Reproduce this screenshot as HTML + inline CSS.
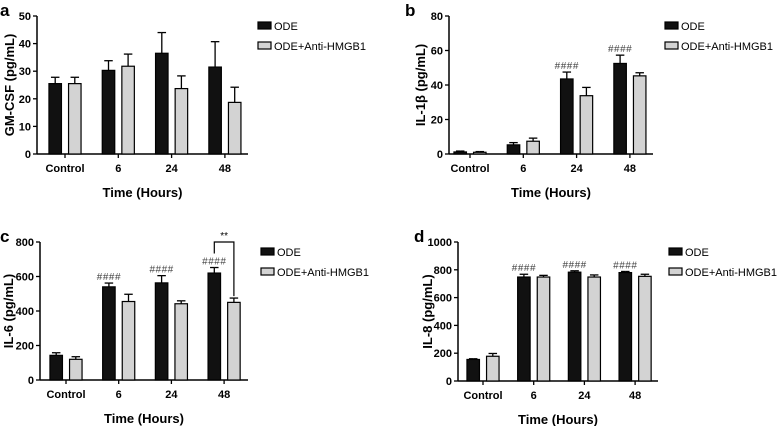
<!DOCTYPE html>
<html><head><meta charset="utf-8"><style>
body{margin:0;background:#fff;}
svg{display:block;font-family:"Liberation Sans",Arial,sans-serif;}
</style></head><body>
<svg id="fig" width="778" height="426" viewBox="0 0 778 426"></svg>
<script>
const categories = ["Control","6","24","48"];
const seriesNames = ["ODE","ODE+Anti-HMGB1"];
// panel a
const aOde = [25.5,30.3,36.5,31.5], aOdeErr = [2.3,3.5,7.5,9.2];
const aAnti = [25.5,31.8,23.7,18.7], aAntiErr = [2.3,4.4,4.6,5.5];
const aTicks = [0,10,20,30,40,50];
// panel b
const bOde = [1.2,5.3,43.5,52.5], bOdeErr = [0.5,1.3,4,4.8];
const bAnti = [1,7.4,33.8,45.3], bAntiErr = [0.4,1.8,4.8,1.8];
const bTicks = [0,20,40,60,80];
const bHash = ["","","####","####"];
// panel c
const cOde = [143,540,563,620], cOdeErr = [15,22,42,32];
const cAnti = [120,455,442,450], cAntiErr = [15,42,17,25];
const cTicks = [0,200,400,600,800];
const cHash = ["","####","####","####"];
// panel d
const dOde = [155,748,783,780], dOdeErr = [5,20,10,8];
const dAnti = [178,748,748,753], dAntiErr = [20,12,15,15];
const dTicks = [0,200,400,600,800,1000];
const dHash = ["","####","####","####"];

const NS="http://www.w3.org/2000/svg";
const svg=document.getElementById('fig');
function mk(tag,attrs,parent,text){const e=document.createElementNS(NS,tag);for(const k in attrs)e.setAttribute(k,attrs[k]);if(text!==undefined)e.textContent=text;(parent||svg).appendChild(e);return e;}

function panel(p){
  const g=mk('g',{});
  
  
  const ymax=p.ticks[p.ticks.length-1];
  const y=v=>p.y0-(v/ymax)*(p.y0-p.yTop);
  const x=i=>p.c0+i*p.step;
  const bw=12.5, off=9.8;
  const ya=mk('line',{x1:p.ax,y1:p.yTop,x2:p.ax,y2:p.y0,stroke:'#000','stroke-width':1.5},g);
  
  p.ticks.forEach(t=>{
    mk('line',{x1:p.ax-4,y1:y(t),x2:p.ax,y2:y(t),stroke:'#000','stroke-width':1.3},g);
    const tl=mk('text',{x:p.ax-6,y:y(t)+4,'text-anchor':'end','font-size':11,'font-weight':'bold'},g,String(t));
    
  });
  const xa=mk('line',{x1:p.ax,y1:p.y0,x2:p.axEnd,y2:p.y0,stroke:'#000','stroke-width':1.5},g);
  
  categories.forEach((c,i)=>{
    mk('line',{x1:x(i),y1:p.y0,x2:x(i),y2:p.y0+4,stroke:'#000','stroke-width':1.3},g);
    const cl=mk('text',{x:x(i),y:p.y0+18,'text-anchor':'middle','font-size':11,'font-weight':'bold'},g,c);
    
  });
  const series=[[p.ode,p.odeErr,'#111'],[p.anti,p.antiErr,'#d3d3d3']];
  series.forEach((s,si)=>{
    s[0].forEach((v,i)=>{
      const cx=x(i)+(si?off:-off);
      const top=y(v+s[1][i]);
      mk('line',{x1:cx,y1:y(v),x2:cx,y2:top,stroke:'#000','stroke-width':1.3},g);
      mk('line',{x1:cx-bw/2+2,y1:top,x2:cx,y2:top,stroke:'#000','stroke-width':1.3},g);
      mk('line',{x1:cx,y1:top,x2:cx+bw/2-2,y2:top,stroke:'#000','stroke-width':1.3},g);
      const r=mk('rect',{x:cx-bw/2,y:y(v),width:bw,height:p.y0-y(v),fill:s[2],stroke:'#000','stroke-width':1.2},g);
      
      
      if(!si&&p.hash&&p.hash[i]){
        const h=mk('text',{x:cx,y:top-3,'text-anchor':'middle','font-size':10,fill:'#444','letter-spacing':'0.5'},g,p.hash[i]);
        
      }
    });
  });
  const xt=mk('text',{x:(p.ax+p.axEnd)/2,y:p.y0+43,'text-anchor':'middle','font-size':13,'font-weight':'bold'},g,'Time (Hours)');
  
  const yc=(p.y0+p.yTop)/2;
  const yt=mk('text',{x:p.ylx,y:yc,'text-anchor':'middle','font-size':13,'font-weight':'bold',transform:`rotate(-90 ${p.ylx} ${yc})`},g,p.ylabel);
  
  const lt=mk('text',{x:p.lx-p.letterDx,y:p.yTop,'font-size':17,'font-weight':'bold'},g,p.letter);
  
  seriesNames.forEach((n,i)=>{
    const ly=p.yTop+6+i*20;
    const sq=mk('rect',{x:p.legX,y:ly,width:13,height:7,fill:i?'#d3d3d3':'#111',stroke:'#000','stroke-width':1.2},g);
    
    const tx=mk('text',{x:p.legX+16,y:ly+8,'font-size':11},g,n);
    
  });
  return {g,x,y,off};
}

panel({letter:'a',ax:37,axEnd:248,y0:154,yTop:16,c0:65,step:53.3,ticks:aTicks,ode:aOde,odeErr:aOdeErr,anti:aAnti,antiErr:aAntiErr,ylabel:'GM-CSF (pg/mL)',ylx:14,lx:37,letterDx:37,legX:258});
panel({letter:'b',ax:449,axEnd:653,y0:154,yTop:16,c0:470,step:53.3,ticks:bTicks,ode:bOde,odeErr:bOdeErr,anti:bAnti,antiErr:bAntiErr,hash:bHash,ylabel:'IL-1\u03b2 (pg/mL)',ylx:425,lx:449,letterDx:44,legX:665});
const pc=panel({letter:'c',ax:40,axEnd:248,y0:380,yTop:242,c0:66,step:52.7,ticks:cTicks,ode:cOde,odeErr:cOdeErr,anti:cAnti,antiErr:cAntiErr,hash:cHash,ylabel:'IL-6 (pg/mL)',ylx:13,lx:40,letterDx:40,legX:261});
panel({letter:'d',ax:458,axEnd:658,y0:381,yTop:242,c0:483,step:50.7,ticks:dTicks,ode:dOde,odeErr:dOdeErr,anti:dAnti,antiErr:dAntiErr,hash:dHash,ylabel:'IL-8 (pg/mL)',ylx:432,lx:458,letterDx:44,legX:669});
{
  const i=3, xl=pc.x(i)-pc.off, xr=pc.x(i)+pc.off, by=pc.y(800);
  const br=mk('polyline',{points:`${xl},${pc.y(cOde[i]+cOdeErr[i])-14} ${xl},${by} ${xr},${by} ${xr},${pc.y(cAnti[i]+cAntiErr[i])-2}`,fill:'none',stroke:'#000','stroke-width':1.2},pc.g);
  
  const st=mk('text',{x:(xl+xr)/2,y:by-3,'text-anchor':'middle','font-size':10},pc.g,'**');
  
}
</script>
</body></html>
